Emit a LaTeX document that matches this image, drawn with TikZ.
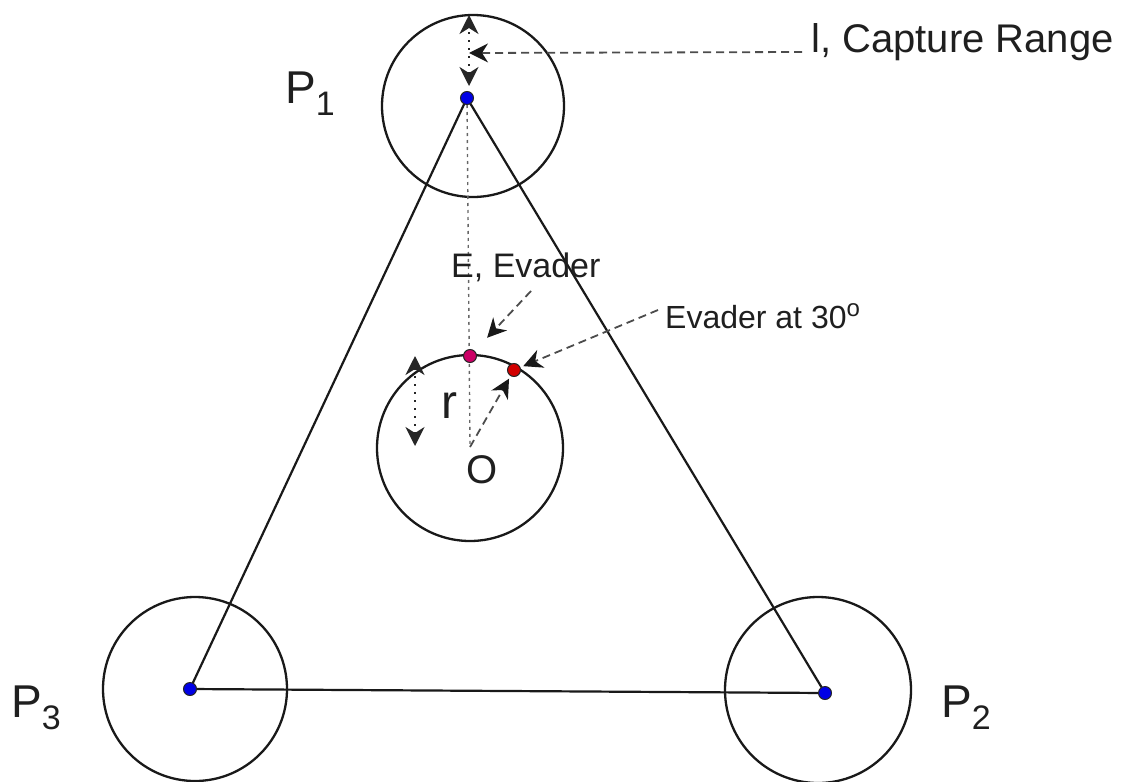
\documentclass[tikz,border=0pt]{standalone}
\usepackage{fontspec}
\setmainfont{Liberation Sans}
\usetikzlibrary{arrows.meta}
\definecolor{pblue}{RGB}{0,0,230}
\definecolor{emag}{RGB}{204,0,102}
\definecolor{ered}{RGB}{210,0,0}
\begin{document}
\begin{tikzpicture}[x=1pt,y=-1pt,
  ring/.style={draw=black!90, line width=2.3pt, circle, inner sep=0pt, minimum size=#1},
  dot/.style={circle, draw=black!85, line width=1pt, inner sep=0pt, minimum size=13pt, fill=#1},
  edge/.style={draw=black!90, line width=2.2pt},
  lbl/.style={inner sep=0pt, anchor=base west, text=black!88},
  dasharrow/.style={draw=black!70, line width=1.8pt, dash pattern=on 8pt off 5pt, -{Stealth[length=19pt,width=19pt,inset=6pt,color=black!90]}},
  dotline/.style={draw=black!60, line width=1.4pt, dash pattern=on 3pt off 4pt},
  dotarrow/.style={draw=black!85, line width=1.8pt, dash pattern=on 2pt off 6pt, {Stealth[length=19pt,width=19pt,inset=6pt]}-{Stealth[length=19pt,width=19pt,inset=6pt]}}
]
\useasboundingbox (0,0) rectangle (1133,782);
% centres
\coordinate (P1) at (467,98);
\coordinate (P2) at (825,693);
\coordinate (P3) at (190,689);
\coordinate (Ec) at (470,356);
\coordinate (Rc) at (514,370);
\coordinate (Oc) at (470,447);
% capture circles and evader circle
\node[ring=182pt] (c1) at (473,106) {};
\node[ring=186pt] (c2) at (818,690) {};
\node[ring=184pt] (c3) at (195,689) {};
\node[ring=186pt] (c0) at (470,448) {};
% triangle
\draw[edge] (P1) -- (P2) -- (P3) -- cycle;
% vertical dotted line P1 to O
\draw[dotline] (P1) -- (Oc);
% dots
\node[dot=pblue] (p1) at (P1) {};
\node[dot=pblue] (p2) at (P2) {};
\node[dot=pblue] (p3) at (P3) {};
\node[dot=emag] (e) at (Ec) {};
\node[dot=ered] (e30) at (Rc) {};
% labels
\node[lbl, font=\fontsize{46}{50}\selectfont] (l1) at (285,103) {P\raisebox{-12pt}{\fontsize{34}{36}\selectfont 1}};
\node[lbl, font=\fontsize{46}{50}\selectfont] (l2) at (941,717) {P\raisebox{-12pt}{\fontsize{34}{36}\selectfont 2}};
\node[lbl, font=\fontsize{46}{50}\selectfont] (l3) at (11,717) {P\raisebox{-12pt}{\fontsize{34}{36}\selectfont 3}};
\node[lbl, font=\fontsize{40}{44}\selectfont] (cap) at (811,52) {l, Capture Range};
\node[lbl, font=\fontsize{34}{38}\selectfont] (elbl) at (451,277) {E, Evader};
\node[lbl, font=\fontsize{32}{36}\selectfont] (e30lbl) at (665,328) {Evader at 30\raisebox{12pt}{\fontsize{24}{26}\selectfont o}};
\node[lbl, font=\fontsize{48}{52}\selectfont] (rl) at (441,418) {r};
\node[lbl, font=\fontsize{40}{44}\selectfont] (ol) at (466,483) {O};
% arrow coordinates
\coordinate (capT) at (469,15);
\coordinate (capB) at (469,86);
\coordinate (capS) at (802,52);
\coordinate (capE) at (469,53);
\coordinate (rT) at (415,356);
\coordinate (rB) at (415,446);
\coordinate (eS) at (531,291);
\coordinate (e30S) at (658,310);
% arrows
\draw[dotarrow] (capB) -- (capT);
\draw[dasharrow] (capS) -- (capE);
\draw[dotarrow] (rB) -- (rT);
\draw[dasharrow, shorten >=3pt] (Oc) -- (e30);
\draw[dasharrow, shorten >=18pt] (eS) -- (e);
\draw[dasharrow, shorten >=3pt] (e30S) -- (e30);
\end{tikzpicture}
\end{document}
